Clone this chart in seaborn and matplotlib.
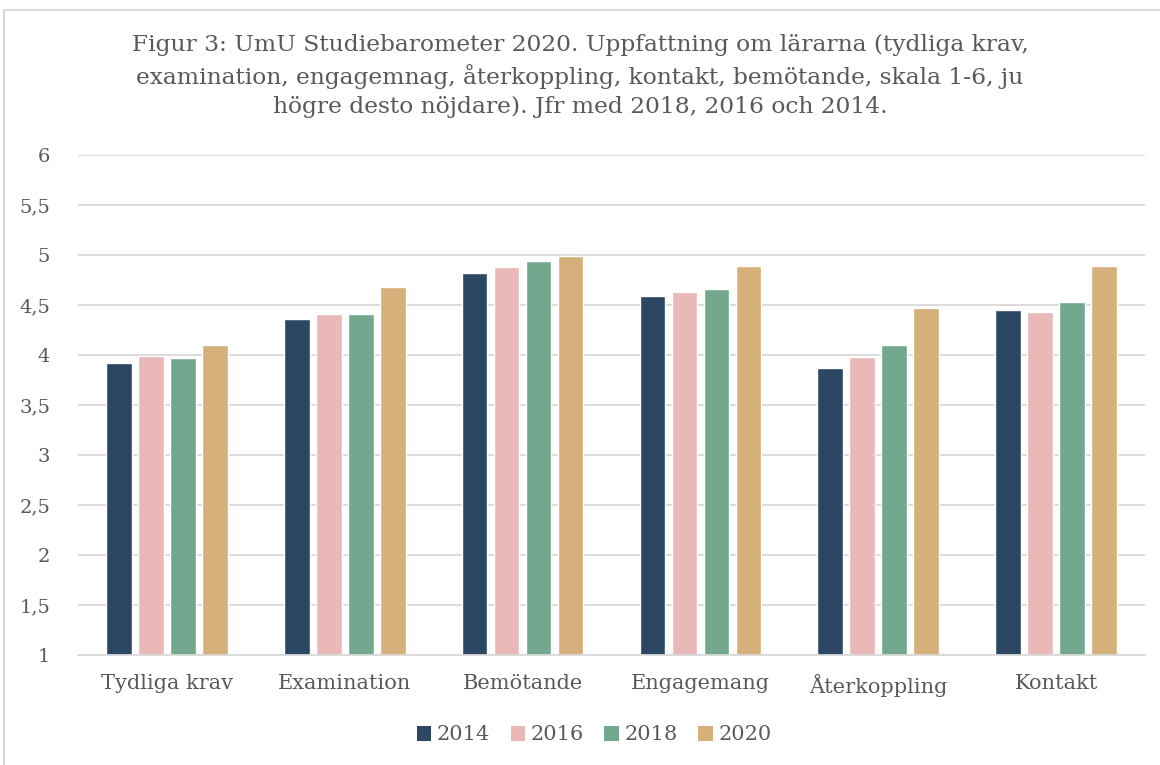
import numpy as np
import pandas as pd
import matplotlib
matplotlib.use("Agg")
import matplotlib.pyplot as plt
from matplotlib.patches import Rectangle, Patch
from matplotlib.ticker import FuncFormatter
import seaborn as sns

# Data
categories = ["Tydliga krav", "Examination", "Bemötande", "Engagemang", "Återkoppling", "Kontakt"]
years = ["2014", "2016", "2018", "2020"]
v2014 = [3.92, 4.36, 4.82, 4.59, 3.87, 4.45]
v2016 = [3.99, 4.41, 4.88, 4.63, 3.98, 4.43]
v2018 = [3.97, 4.41, 4.94, 4.66, 4.10, 4.53]
v2020 = [4.10, 4.68, 4.99, 4.89, 4.47, 4.89]
colors = ["#2B4764", "#E9B8B7", "#73A88F", "#D6B07B"]

rows = []
for year, vals in zip(years, [v2014, v2016, v2018, v2020]):
    for cat, v in zip(categories, vals):
        rows.append({"Kategori": cat, "År": year, "Värde": v})
df = pd.DataFrame(rows)

sns.set_style("white")
plt.rcParams["font.family"] = ["DejaVu Serif"]
text_color = "#595959"

fig = plt.figure(figsize=(11.6, 7.65), dpi=100)
ax = fig.add_axes([78 / 1160, 1 - 655 / 765, (1145 - 78) / 1160, (655 - 155) / 765])

# Chart frame
fig.patches.append(Rectangle((4 / 1160, -0.01), 1.2, 1 - 10 / 765 + 0.01, transform=fig.transFigure,
                             fill=False, edgecolor="#D9D9D9", linewidth=1.5))

sns.barplot(data=df, x="Kategori", y="Värde", hue="År", palette=colors, width=0.72, gap=0.2,
            order=categories, hue_order=years, ax=ax, legend=False, saturation=1)

ax.set_ylim(1, 6)
ax.set_yticks(np.arange(1, 6.01, 0.5))
ax.yaxis.set_major_formatter(FuncFormatter(lambda v, p: ("%g" % v).replace(".", ",")))
ax.grid(axis="y", color="#D9D9D9", linewidth=1.3)
ax.set_axisbelow(True)
for s in ["top", "right", "left"]:
    ax.spines[s].set_visible(False)
ax.spines["bottom"].set_color("#D9D9D9")
ax.spines["bottom"].set_linewidth(1.3)
ax.tick_params(axis="y", length=0, labelsize=14, colors=text_color, pad=20)
ax.tick_params(axis="x", length=0, labelsize=15, colors=text_color, pad=14)
ax.set_xlabel("")
ax.set_ylabel("")

fig.text(0.5, 1 - 76 / 765,
         "Figur 3: UmU Studiebarometer 2020. Uppfattning om lärarna (tydliga krav,\n"
         "examination, engagemnag, återkoppling, kontakt, bemötande, skala 1-6, ju\n"
         "högre desto nöjdare). Jfr med 2018, 2016 och 2014.",
         ha="center", va="center", fontsize=16.8, color=text_color, linespacing=1.4)

handles = [Patch(facecolor=c, edgecolor="none") for c in colors]
fig.legend(handles, years, loc="center", bbox_to_anchor=(594 / 1160, 1 - 735 / 765), ncol=4, frameon=False,
           fontsize=15, labelcolor=text_color, handlelength=0.7, handleheight=0.7,
           handletextpad=0.25, columnspacing=1.0)

fig.savefig("out.png", dpi=100)
